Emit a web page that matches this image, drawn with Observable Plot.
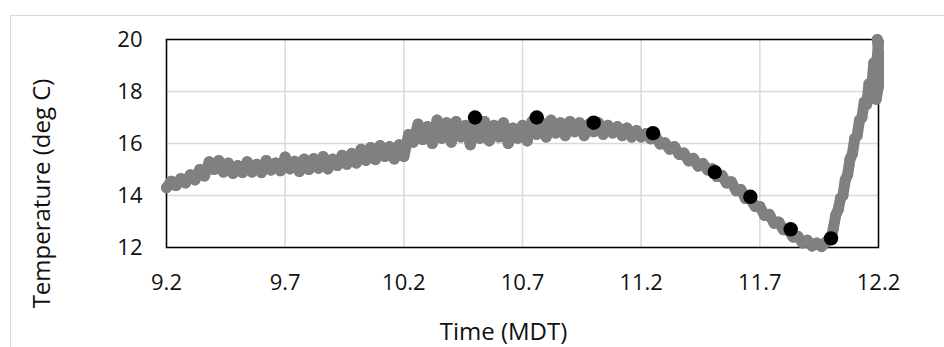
<!DOCTYPE html>
<html>
<head>
<meta charset="utf-8">
<script src="https://cdn.jsdelivr.net/npm/d3@7"></script>
<script src="https://cdn.jsdelivr.net/npm/@observablehq/plot@0.6"></script>
<style>
  html, body { margin: 0; padding: 0; background: #fff; }
  #wrap { position: relative; width: 944px; height: 347px; overflow: hidden; }
  #border { position: absolute; left: 10px; top: 15px; right: -5px; bottom: -5px;
            border-top: 1.5px solid #d9d9d9; border-left: 1.5px solid #d9d9d9; }
  #wrap svg { position: absolute; left: 0; top: 0; }
</style>
</head>
<body>
<div id="wrap"><div id="border"></div></div>
<script>
// Continuous sensor record (hours MDT, deg C)
const sensorTime = [
  9.20, 9.22, 9.24, 9.26, 9.28, 9.30, 9.32, 9.34, 9.36, 9.38,
  9.40, 9.42, 9.44, 9.46, 9.48, 9.50, 9.52, 9.54, 9.56, 9.58,
  9.60, 9.62, 9.64, 9.66, 9.68, 9.70, 9.72, 9.74, 9.76, 9.78,
  9.80, 9.82, 9.84, 9.86, 9.88, 9.90, 9.92, 9.94, 9.96, 9.98,
  10.00, 10.02, 10.04, 10.06, 10.08, 10.10, 10.12, 10.14, 10.16, 10.18,
  10.20,
  10.22, 10.24, 10.26, 10.28, 10.30, 10.32, 10.34, 10.36, 10.38, 10.40,
  10.42, 10.44, 10.46, 10.48, 10.50, 10.52, 10.54, 10.56, 10.58, 10.60,
  10.62, 10.64, 10.66, 10.68, 10.70, 10.72, 10.74, 10.76, 10.78, 10.80,
  10.82, 10.84, 10.86, 10.88, 10.90, 10.92, 10.94, 10.96, 10.98, 11.00,
  11.02, 11.04, 11.06, 11.08, 11.10, 11.12, 11.14, 11.16, 11.18, 11.20,
  11.22, 11.24, 11.26, 11.28, 11.30, 11.32, 11.34, 11.36, 11.38, 11.40,
  11.42, 11.44, 11.46, 11.48, 11.50, 11.52, 11.54, 11.56, 11.58, 11.60,
  11.62, 11.64, 11.66, 11.68, 11.70, 11.72, 11.74, 11.76, 11.78, 11.80,
  11.82, 11.84, 11.86, 11.88, 11.90, 11.92, 11.94, 11.96, 11.98,
  12.00, 12.01, 12.02, 12.03, 12.04, 12.05, 12.06, 12.07, 12.08, 12.09,
  12.10, 12.11, 12.12, 12.13, 12.14, 12.15, 12.16, 12.17, 12.18, 12.19,
  12.20, 12.19, 12.20, 12.20, 12.20, 12.195
];
const sensorTemp = [
  14.3, 14.55, 14.38, 14.65, 14.48, 14.8, 14.6, 15.0, 14.75, 15.3,
  15.0, 15.35, 14.9, 15.25, 14.85, 15.15, 14.88, 15.3, 14.9, 15.2,
  14.88, 15.35, 14.98, 15.25, 14.95, 15.48, 15.02, 15.32, 14.92, 15.4,
  15.0, 15.42, 15.05, 15.5, 15.02, 15.4, 15.15, 15.55, 15.2, 15.62,
  15.25, 15.78, 15.35, 15.85, 15.38, 15.92, 15.5, 15.88, 15.4, 15.95,
  15.5,
  16.35, 16.05, 16.75, 16.15, 16.65, 16.0, 16.9, 16.2, 16.8, 16.05,
  16.85, 16.25, 16.7, 15.95, 16.8, 16.2, 16.85, 16.1, 16.7, 16.25,
  16.8, 16.0, 16.6, 16.2, 16.7, 16.1, 16.85, 16.35, 16.8, 16.25,
  16.9, 16.4, 16.8, 16.3, 16.85, 16.45, 16.8, 16.3, 16.75, 16.45,
  16.8, 16.35, 16.7, 16.4, 16.65, 16.3, 16.6, 16.25, 16.5, 16.25,
  16.38, 16.18, 16.28, 15.98, 16.03, 15.78, 15.88, 15.58, 15.63, 15.33,
  15.43, 15.13, 15.23, 14.98, 15.03, 14.73, 14.78, 14.48, 14.53, 14.18,
  14.23, 13.88, 13.88, 13.58, 13.58, 13.23, 13.28, 12.93, 12.98, 12.68,
  12.68, 12.4, 12.43, 12.18, 12.28, 12.06, 12.17, 12.04, 12.22,
  12.35, 12.75, 13.25, 13.45, 13.9, 14.0, 14.6, 14.8, 15.4, 15.6,
  16.2, 16.3, 16.9, 17.0, 17.6, 17.5, 18.3, 18.0, 19.1, 18.8,
  19.9, 17.7, 18.2, 18.9, 19.5, 20.0
];
// Discrete samples (black dots)
const sampleTime = [10.5, 10.76, 11.0, 11.25, 11.51, 11.66, 11.83, 12.0];
const sampleTemp = [17.0, 17.0, 16.8, 16.4, 14.9, 13.95, 12.7, 12.35];
// Axis ticks
const xTicks = [9.2, 9.7, 10.2, 10.7, 11.2, 11.7, 12.2];
const yTicks = [12, 14, 16, 18, 20];
const xTitle = "Time (MDT)";
const yTitle = "Temperature (deg C)";

const sensor = sensorTime.map((t, i) => ({t, T: sensorTemp[i]}));
const samples = sampleTime.map((t, i) => ({t, T: sampleTemp[i]}));

const chart = Plot.plot({
  width: 944,
  height: 347,
  marginLeft: 166,
  marginRight: 66,
  marginTop: 39,
  marginBottom: 100,
  style: {fontFamily: "'Open Sans', sans-serif", fontSize: "22px", color: "#111", background: "transparent", overflow: "visible"},
  x: {domain: [9.2, 12.2], ticks: xTicks, tickFormat: ".1f", tickSize: 0, tickPadding: 27, label: null},
  y: {domain: [12, 20], ticks: yTicks, tickSize: 0, tickPadding: 24, label: null},
  marks: [
    Plot.gridX(xTicks, {stroke: "#d9d9d9", strokeOpacity: 1, strokeWidth: 1.5}),
    Plot.gridY(yTicks, {stroke: "#d9d9d9", strokeOpacity: 1, strokeWidth: 1.5}),
    Plot.frame({stroke: "#000", strokeWidth: 1.5}),
    Plot.line(sensor, {x: "t", y: "T", stroke: "#808080", strokeWidth: 11, strokeLinejoin: "round", strokeLinecap: "round"}),
    Plot.dot(sensor, {x: "t", y: "T", r: 5.5, fill: "#808080"}),
    Plot.dot(samples, {x: "t", y: "T", r: 7.2, fill: "#000"}),
    Plot.text([xTitle], {text: d => d, frameAnchor: "bottom", textAnchor: "middle", lineAnchor: "middle", dx: -19, dy: 85, fontSize: 24}),
    Plot.text([yTitle], {text: d => d, frameAnchor: "left", textAnchor: "middle", lineAnchor: "middle", rotate: -90, dx: -124, dy: 50, fontSize: 24})
  ]
});
document.getElementById("wrap").appendChild(chart);
</script>
</body>
</html>
